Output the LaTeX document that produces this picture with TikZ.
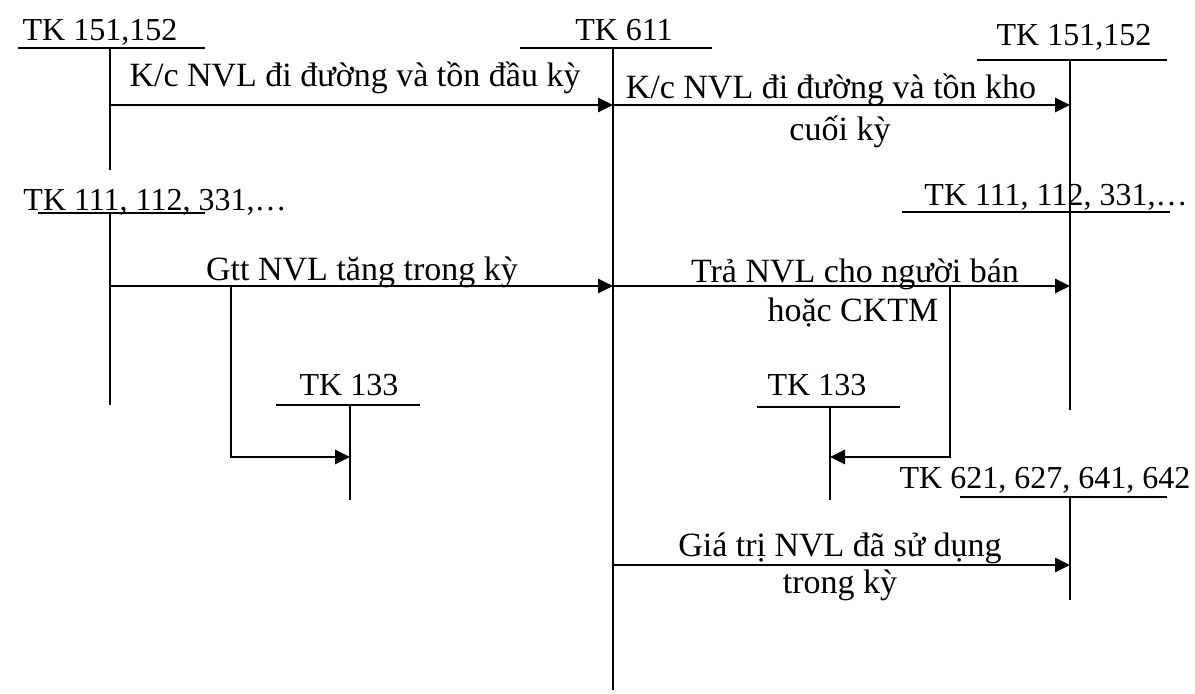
\documentclass[tikz,border=0pt]{standalone}
\usepackage{fontspec}
\setmainfont{Liberation Serif}
\usetikzlibrary{arrows.meta,positioning,calc}

\begin{document}
\begin{tikzpicture}[x=0.5pt, y=-0.5pt,
    tline/.style={line width=1.1pt},
    flow/.style={line width=1.4pt, -{Triangle[length=7.5pt,width=7pt]}},
    tklabel/.style={font=\fontsize{16}{16}\selectfont, inner sep=0pt, anchor=base},
    txt/.style={font=\fontsize{17}{17}\selectfont, inner sep=0pt, anchor=base}]

        \useasboundingbox (0,0) rectangle (1195,693);

        %% ── T accounts: name / label x / label y / label / bar from / bar to / bar y / stem x / stem end ──
        \foreach \n/\lx/\ly/\lab/\xa/\xb/\yh/\xv/\yb in {
            l151/100/40/{TK 151,152}/18/205/48/110/170,
            tk611/624/40/{TK 611}/520/712/48/613/690,
            r151/1074/45/{TK 151,152}/977/1167/60/1070/215,
            l111/155/210/{TK 111, 112, 331,\ldots}/38/205/213/110/405,
            r111/1056/205/{TK 111, 112, 331,\ldots}/902/1170/212/1070/410,
            l133/349/395/{TK 133}/276/420/405/350/500,
            r133/817/395/{TK 133}/757/900/407/830/500,
            tk621/1045/488/{TK 621, 627, 641, 642}/960/1167/497/1070/600}{
          \node[tklabel] (\n-lbl) at (\lx,\ly) {\lab};
          \coordinate (\n-top) at (\xv,\yh);
          \coordinate (\n-bot) at (\xv,\yb);
          \draw[tline] (\xa,\yh) -- (\xb,\yh);
          \draw[tline] (\n-top) -- (\n-bot);
        }

        %% ── rows of the entries ──
        \coordinate (row1) at (0,105);
        \coordinate (row2) at (0,286);
        \coordinate (row3) at (0,457);
        \coordinate (row4) at (0,565);

        %% opening balance into 611
        \draw[flow] (l151-top |- row1) -- (tk611-top |- row1);
        \node[txt] (t1) at (355,86) {K/c NVL đi đường và tồn đầu kỳ};

        %% closing balance out of 611
        \draw[flow] (tk611-top |- row1) -- (r151-top |- row1);
        \node[txt] (t2) at (831,98) {K/c NVL đi đường và tồn kho};
        \node[txt] (t2b) at (840,140) {cuối kỳ};

        %% purchases
        \draw[flow] (l111-top |- row2) -- (tk611-top |- row2);
        \node[txt] (t3) at (362,280) {Gtt NVL tăng trong kỳ};
        \coordinate (bl) at (231,286);
        \draw[flow] (bl) |- (l133-top |- row3);

        %% returns
        \draw[flow] (tk611-top |- row2) -- (r111-top |- row2);
        \node[txt] (t4) at (855,282) {Trả NVL cho người bán};
        \node[txt] (t4b) at (853,321) {hoặc CKTM};
        \coordinate (br) at (950,286);
        \draw[flow] (br) |- (r133-top |- row3);

        %% used in the period
        \draw[flow] (tk611-top |- row4) -- (tk621-top |- row4);
        \node[txt] (t5) at (840,556) {Giá trị NVL đã sử dụng};
        \node[txt] (t5b) at (840,593) {trong kỳ};

\end{tikzpicture}
\end{document}
